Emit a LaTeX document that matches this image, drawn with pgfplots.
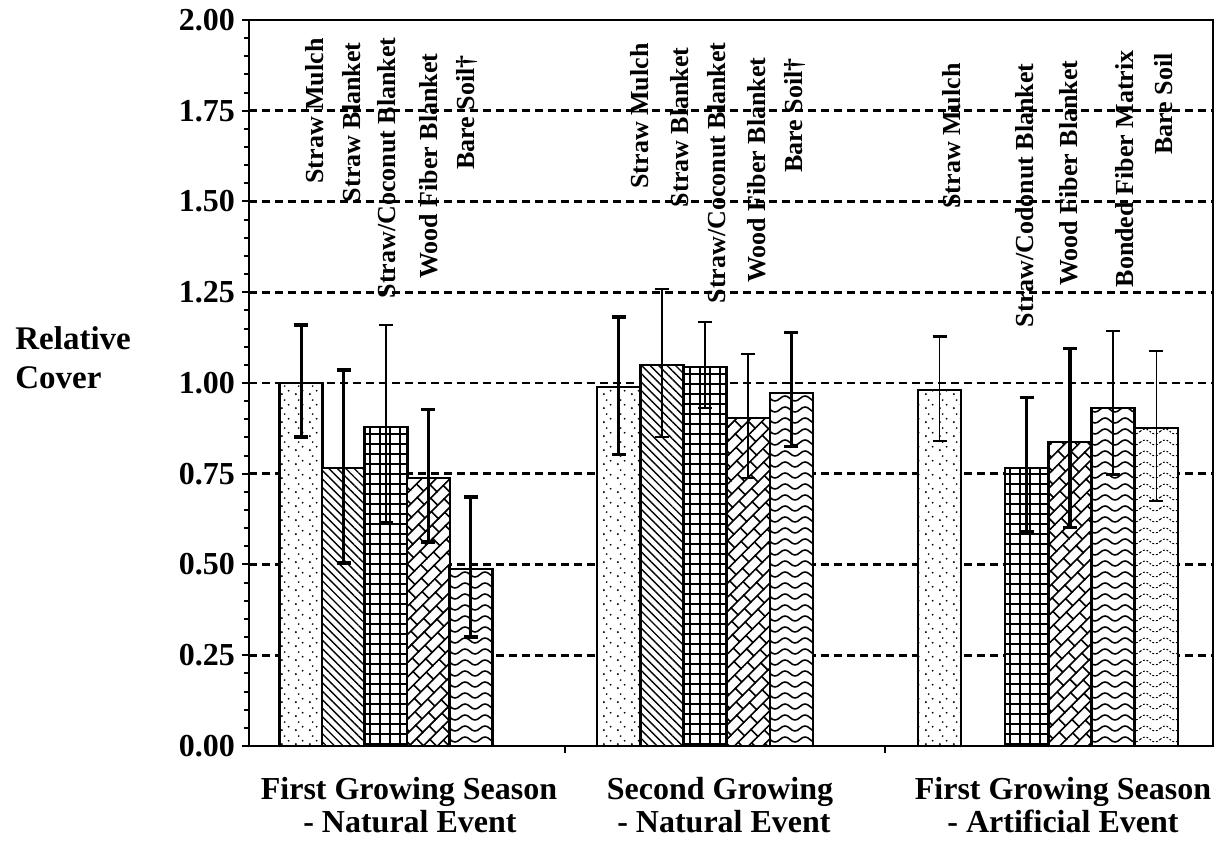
\documentclass[border=0pt]{standalone}
\usepackage{pgfplots}
\pgfplotsset{compat=1.18}
\usepackage{fontspec}
\setmainfont{Liberation Serif}
\usetikzlibrary{patterns,patterns.meta}

\pgfdeclarepattern{
  name=sparsedots, type=uncolored,
  bottom left={\pgfpoint{0pt}{0pt}}, top right={\pgfpoint{7pt}{7pt}},
  tile size={\pgfpoint{7pt}{7pt}},
  code={
    \pgfpathcircle{\pgfpoint{1pt}{1pt}}{0.55pt}
    \pgfpathcircle{\pgfpoint{4.6pt}{2.8pt}}{0.5pt}
    \pgfpathcircle{\pgfpoint{2.5pt}{5.3pt}}{0.5pt}
    \pgfusepath{fill}
  }
}
\pgfdeclarepattern{
  name=bricks, type=uncolored,
  bottom left={\pgfpoint{-0.5pt}{-0.5pt}}, top right={\pgfpoint{9.5pt}{10.5pt}},
  tile size={\pgfpoint{9pt}{10pt}},
  tile transformation={\pgftransformrotate{45}},
  code={
    \pgfsetlinewidth{0.8pt}
    \pgfpathmoveto{\pgfpoint{-0.5pt}{0pt}}\pgfpathlineto{\pgfpoint{9.5pt}{0pt}}
    \pgfpathmoveto{\pgfpoint{-0.5pt}{5pt}}\pgfpathlineto{\pgfpoint{9.5pt}{5pt}}
    \pgfpathmoveto{\pgfpoint{0pt}{0pt}}\pgfpathlineto{\pgfpoint{0pt}{5pt}}
    \pgfpathmoveto{\pgfpoint{4.5pt}{5pt}}\pgfpathlineto{\pgfpoint{4.5pt}{10pt}}
    \pgfusepath{stroke}
  }
}
\pgfdeclarepattern{
  name=waves, type=uncolored,
  bottom left={\pgfpoint{-0.5pt}{0pt}}, top right={\pgfpoint{10.5pt}{5.5pt}},
  tile size={\pgfpoint{10pt}{5.5pt}},
  code={
    \pgfsetlinewidth{0.8pt}
    \pgfpathmoveto{\pgfpoint{0pt}{2.75pt}}
    \pgfpathcurveto{\pgfpoint{1.7pt}{4.4pt}}{\pgfpoint{3.3pt}{4.4pt}}{\pgfpoint{5pt}{2.75pt}}
    \pgfpathcurveto{\pgfpoint{6.7pt}{1.1pt}}{\pgfpoint{8.3pt}{1.1pt}}{\pgfpoint{10pt}{2.75pt}}
    \pgfusepath{stroke}
  }
}
\pgfdeclarepattern{
  name=dotwaves, type=uncolored,
  bottom left={\pgfpoint{-0.5pt}{0pt}}, top right={\pgfpoint{10.5pt}{5.5pt}},
  tile size={\pgfpoint{10pt}{5.5pt}},
  code={
    \pgfsetlinewidth{0.5pt}
    \pgfsetdash{{0.9pt}{0.9pt}}{0pt}
    \pgfpathmoveto{\pgfpoint{0pt}{2.75pt}}
    \pgfpathcurveto{\pgfpoint{1.7pt}{4.4pt}}{\pgfpoint{3.3pt}{4.4pt}}{\pgfpoint{5pt}{2.75pt}}
    \pgfpathcurveto{\pgfpoint{6.7pt}{1.1pt}}{\pgfpoint{8.3pt}{1.1pt}}{\pgfpoint{10pt}{2.75pt}}
    \pgfusepath{stroke}
  }
}

\newcommand\vlab{\fontsize{13}{15}\selectfont\bfseries}
\newcommand\blab{\fontsize{16}{18}\selectfont\bfseries}
\newcommand\lab[3]{\node[rotate=90,anchor=base east,inner sep=0pt,font=\vlab] at ({(#1-249)*0.5pt},{(746-#2)*0.5pt}) {#3};}
\newcommand\glab[3]{\node[anchor=base,inner sep=0pt,font=\blab] at ({(#1-249)*0.5pt},{(746-#2)*0.5pt}) {#3};}

\begin{document}
\begin{tikzpicture}
\path[use as bounding box] (-124.5pt,-49pt) rectangle (483pt,373pt);
\begin{axis}[
  at={(0,0)}, anchor=south west,
  scale only axis, width=482pt, height=363pt,
  xmin=249, xmax=1213, ymin=0, ymax=2,
  ytick={0,0.25,0.5,0.75,1,1.25,1.5,1.75,2},
  minor y tick num=4,
  xtick={565,885}, xticklabels={},
  tick align=outside, tick pos=left,
  major tick length=3.5pt, minor tick length=2.5pt,
  every tick/.style={black, line width=1pt},
  yticklabel style={font=\blab, /pgf/number format/.cd, fixed, fixed zerofill, precision=2, assume math mode=true},
  ymajorgrids,
  grid style={dash pattern=on 4pt off 2.5pt, line width=1.3pt, black},
  axis line style={line width=1.1pt},
  clip=false,
]
% bars
\addplot[ybar, bar width=43, bar shift=0pt, draw=black, line width=1.2pt, preaction={fill=white}, pattern=sparsedots]
  coordinates {(301.2,1.000) (618.6,0.989) (939.5,0.981)};
\addplot[ybar, bar width=43, bar shift=0pt, draw=black, line width=1.2pt, preaction={fill=white}, pattern={Lines[angle=-45,distance=3pt,line width=0.7pt]}]
  coordinates {(343.6,0.766) (661.8,1.050)};
\addplot[ybar, bar width=43, bar shift=0pt, draw=black, line width=1.2pt, preaction={fill=white}, pattern={Hatch[angle=0,distance=5pt,line width=1pt]}]
  coordinates {(386.0,0.879) (705.0,1.044) (1026.6,0.766)};
\addplot[ybar, bar width=43, bar shift=0pt, draw=black, line width=1.2pt, preaction={fill=white}, pattern=bricks]
  coordinates {(428.4,0.738) (748.2,0.904) (1069.9,0.837)};
\addplot[ybar, bar width=43, bar shift=0pt, draw=black, line width=1.2pt, preaction={fill=white}, pattern=waves]
  coordinates {(470.8,0.488) (791.4,0.972) (1113.1,0.931)};
\addplot[ybar, bar width=43, bar shift=0pt, draw=black, line width=1.2pt, preaction={fill=white}, pattern=dotwaves]
  coordinates {(1156.4,0.876)};
% thick error bars
\addplot[draw=none, forget plot, error bars/.cd, y dir=both, y explicit,
  error bar style={draw=black, solid, line width=1.6pt},
  error mark options={rotate=90, draw=black, solid, line width=1.6pt, mark size=3.5pt}]
  coordinates {
  (301.2,1.000) += (0,0.160) -= (0,0.149)
  (343.6,0.766) += (0,0.270) -= (0,0.262)
  (428.4,0.738) += (0,0.188) -= (0,0.176)
  (470.8,0.488) += (0,0.198) -= (0,0.188)
  (618.6,0.989) += (0,0.193) -= (0,0.185)
  (791.4,0.972) += (0,0.166) -= (0,0.148)
  (1026.6,0.766) += (0,0.193) -= (0,0.176)
  (1069.9,0.837) += (0,0.259) -= (0,0.236)
  };
% thin error bars
\addplot[draw=none, forget plot, error bars/.cd, y dir=both, y explicit,
  error bar style={draw=black, solid, line width=0.9pt},
  error mark options={rotate=90, draw=black, solid, line width=1.4pt, mark size=3.5pt}]
  coordinates {
  (386.0,0.879) += (0,0.281) -= (0,0.262)
  (661.8,1.050) += (0,0.209) -= (0,0.199)
  (705.0,1.044) += (0,0.124) -= (0,0.113)
  (748.2,0.904) += (0,0.176) -= (0,0.166)
  (939.5,0.981) += (0,0.146) -= (0,0.141)
  (1113.1,0.931) += (0,0.212) -= (0,0.182)
  (1156.4,0.876) += (0,0.212) -= (0,0.201)
  };
\end{axis}
% bar labels
\lab{323}{38}{Straw Mulch}
\lab{360}{42}{Straw Blanket}
\lab{395}{37}{Straw/Coconut Blanket}
\lab{437}{53}{Wood Fiber Blanket}
\lab{474}{55}{Bare Soil†}
\lab{648}{43}{Straw Mulch}
\lab{688}{47}{Straw Blanket}
\lab{725}{42}{Straw/Coconut Blanket}
\lab{765}{57}{Wood Fiber Blanket}
\lab{802}{58}{Bare Soil†}
\lab{960}{63}{Straw Mulch}
\lab{1033}{63}{Straw/Codonut Blanket}
\lab{1077}{60}{Wood Fiber Blanket}
\lab{1133}{50}{Bonded Fiber Matrix}
\lab{1172}{53}{Bare Soil}
% group labels
\glab{409}{800}{First Growing Season}
\glab{410}{833}{- Natural Event}
\glab{720}{800}{Second Growing}
\glab{724}{833}{- Natural Event}
\glab{1063}{800}{First Growing Season}
\glab{1063}{833}{- Artificial Event}
% y label
\node[anchor=base west,inner sep=0pt,font=\fontsize{16.5}{18}\selectfont\bfseries] at ({(15-249)*0.5pt},{(746-350)*0.5pt}) {Relative};
\node[anchor=base west,inner sep=0pt,font=\fontsize{16.5}{18}\selectfont\bfseries] at ({(15-249)*0.5pt},{(746-389)*0.5pt}) {Cover};
\end{tikzpicture}
\end{document}
